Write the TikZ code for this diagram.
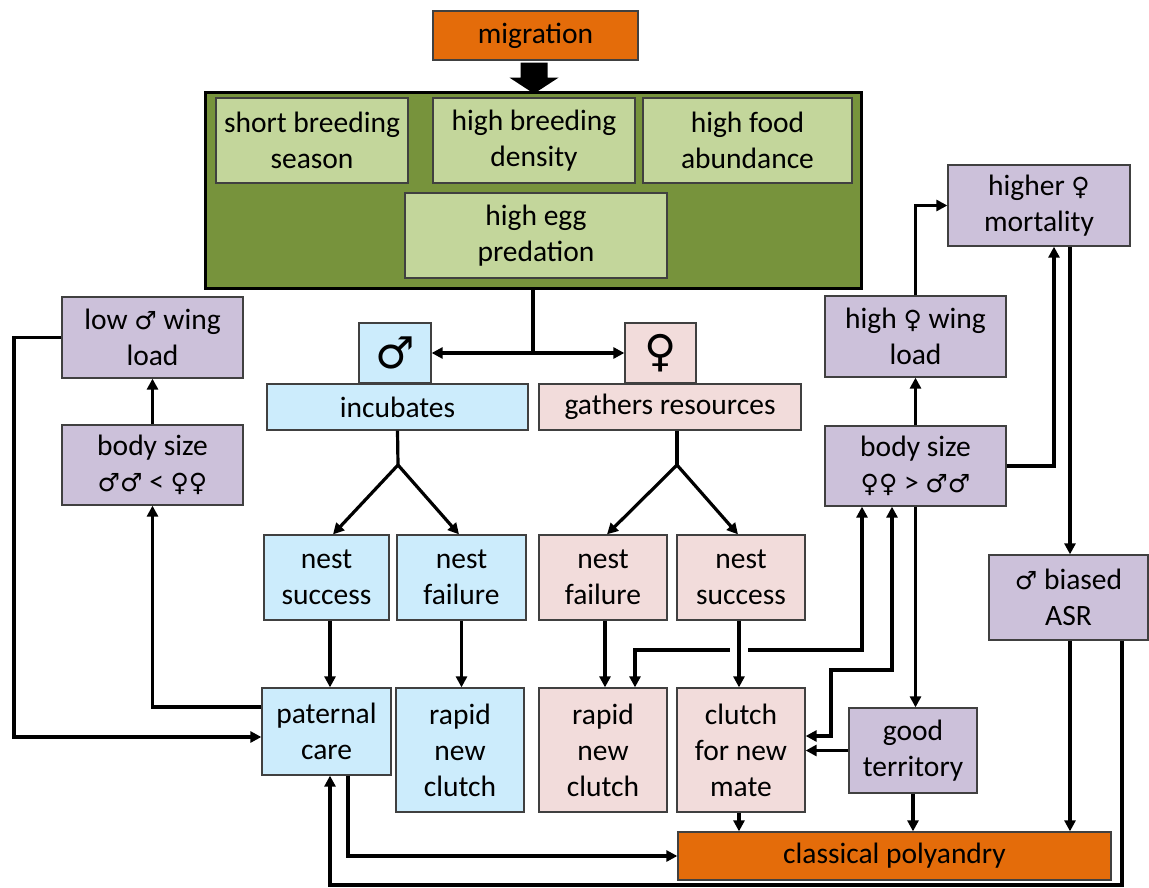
\documentclass[tikz,border=0pt]{standalone}
\usepackage{fontspec}
\setmainfont{Carlito}
\newfontfamily\symf[Scale=0.85]{DejaVu Sans}
\newfontfamily\bigsymf{DejaVu Sans}
\usetikzlibrary{arrows.meta,calc}
\newcommand{\msym}{{\symf ♂}}
\newcommand{\fsym}{{\symf ♀}}
\definecolor{orng}{RGB}{228,108,10}
\definecolor{dkgreen}{RGB}{119,147,60}
\definecolor{lgreen}{RGB}{195,214,155}
\definecolor{lblue}{RGB}{204,236,252}
\definecolor{lpink}{RGB}{242,220,219}
\definecolor{lpurple}{RGB}{204,193,218}
\definecolor{bordergray}{RGB}{64,64,64}
\tikzset{
  box/.style={draw=bordergray, line width=1.3pt, align=center, inner sep=0pt,
    font=\fontsize{29.5}{36}\selectfont},
  gbox/.style={box, fill=lgreen},
  bbox/.style={box, fill=lblue},
  pkbox/.style={box, fill=lpink},
  pubox/.style={box, fill=lpurple},
  obox/.style={box, fill=orng},
  lin/.style={line width=3.2pt},
  conn/.style={line width=3.2pt, -{Triangle[length=11pt,width=11pt]}},
  bconn/.style={line width=3.2pt, {Triangle[length=11pt,width=11pt]}-{Triangle[length=11pt,width=11pt]}},
}
\begin{document}
\begin{tikzpicture}[x=1pt,y=-1pt]
\useasboundingbox (0,0) rectangle (1149,888);
% top
\node[obox, minimum width=205, minimum height=49] (mig) at (535.5,35.5) {migration};
\node[draw=black, line width=3pt, fill=dkgreen, minimum width=656, minimum height=195, inner sep=0pt] (env) at (533,190.5) {};
\fill ($(mig.south)+(-15,2)$) -- ($(mig.south)+(12,2)$) -- ($(mig.south)+(12,17)$) -- ($(mig.south)+(23,17)$)
  -- ($(mig.south)+(-1.5,33)$) -- ($(mig.south)+(-26,17)$) -- ($(mig.south)+(-15,17)$) -- cycle;
\node[gbox, minimum width=192, minimum height=85] (sbs) at (312,140.5) {short breeding\\season};
\node[gbox, minimum width=202, minimum height=85] (hbd) at (534,140.5) {high breeding\\density};
\node[gbox, minimum width=209, minimum height=85] (hfa) at (747.5,140.5) {high food\\abundance};
\node[gbox, minimum width=262, minimum height=85] (hep) at (536,235.5) {high egg\\predation};
% sexes
\node[bbox, minimum width=72, minimum height=60, font=\bigsymf\fontsize{44}{44}\selectfont] (msym) at (395,353) {♂};
\node[pkbox, minimum width=71, minimum height=60, font=\bigsymf\fontsize{44}{44}\selectfont] (fsym) at (660.5,353) {♀};
\node[bbox, minimum width=261, minimum height=46] (inc) at (397.5,407) {incubates};
\node[pkbox, minimum width=262, minimum height=46] (gat) at (670,407) {gathers resources};
% nests
\node[bbox, minimum width=125, minimum height=85] (mns) at (326.5,577.5) {nest\\success};
\node[bbox, minimum width=129, minimum height=85] (mnf) at (461.5,577.5) {nest\\failure};
\node[pkbox, minimum width=128, minimum height=85] (fnf) at (603,577.5) {nest\\failure};
\node[pkbox, minimum width=128, minimum height=85] (fns) at (741,577.5) {nest\\success};
% outcomes
\node[bbox, minimum width=129, minimum height=87] (pc) at (326.5,731.5) {paternal\\care};
\node[bbox, minimum width=128, minimum height=124] (mrc) at (460,750) {rapid\\new\\clutch};
\node[pkbox, minimum width=128, minimum height=124] (frc) at (603,750) {rapid\\new\\clutch};
\node[pkbox, minimum width=128, minimum height=124] (cnm) at (741,750) {clutch\\for new\\mate};
\node[pubox, minimum width=128, minimum height=85] (gt) at (913,750.5) {good\\territory};
\node[obox, minimum width=433, minimum height=48] (cp) at (894.5,856) {classical polyandry};
% purple
\node[pubox, minimum width=181, minimum height=81] (lwl) at (152.5,337.5) {low \msym{} wing\\load};
\node[pubox, minimum width=181, minimum height=80] (bsm) at (152.5,465) {body size\\\msym\msym{} < \fsym\fsym};
\node[pubox, minimum width=181, minimum height=81] (hwl) at (915.5,336.5) {high \fsym{} wing\\load};
\node[pubox, minimum width=181, minimum height=80] (bsf) at (915.5,466) {body size\\\fsym\fsym{} > \msym\msym};
\node[pubox, minimum width=182, minimum height=81] (hfm) at (1039,205.5) {higher \fsym\\mortality};
\node[pubox, minimum width=159, minimum height=85] (asr) at (1068.5,597.5) {\msym{} biased\\ASR};
% connectors
\coordinate (sp) at (533,353);
\draw[lin] (env.south) -- (sp);
\draw[conn] (sp) -- (msym.east);
\draw[conn] (sp) -- (fsym.west);
\coordinate (mj) at (398,465);
\draw[lin] (inc.south) -- (mj);
\draw[conn] (mj) -- ([xshift=6.5pt]mns.north);
\draw[conn] (mj) -- ([xshift=-2.5pt]mnf.north);
\coordinate (fj) at (677,465);
\draw[lin] ([xshift=7pt]gat.south) -- (fj);
\draw[conn] (fj) -- ([xshift=4pt]fnf.north);
\draw[conn] (fj) -- ([xshift=-3pt]fns.north);
\draw[conn] ([xshift=3.5pt]mns.south) -- ([xshift=3.5pt]pc.north);
\draw[conn] (mnf.south) -- (mnf.south |- mrc.north);
\draw[conn] ([xshift=2pt]fnf.south) -- ([xshift=2pt]fnf.south |- frc.north);
\draw[bconn] ([xshift=-53.5pt]bsf.south) -- (862,650) -- (635,650) -- ([xshift=32pt]frc.north);
\draw[conn, preaction={draw=white, line width=18pt, shorten <=16pt, shorten >=16pt, -}] ([xshift=-2pt]fns.south) -- ([xshift=-2pt]fns.south |- cnm.north);
\draw[bconn] ([xshift=-23.5pt]bsf.south) -- (892,670) -- (831,670) -- (831,736) -- ([yshift=14pt]cnm.east);
\draw[conn] (bsf.south) -- (bsf.south |- gt.north);
\draw[conn] (gt.west) -- (gt.west -| cnm.east);
\draw[conn] (gt.south) -- (gt.south |- cp.north);
\draw[conn] ([xshift=-2pt]cnm.south) -- ([xshift=-2pt]cnm.south |- cp.north);
\draw[conn] ([xshift=1.5pt]asr.south) -- ([xshift=1.5pt]asr.south |- cp.north);
\draw[conn] ([xshift=53.5pt]asr.south) -- (1122,885) -- (330,885) -- ([xshift=3.5pt]pc.south);
\draw[conn] ([xshift=21.5pt]pc.south) -- (348,856) -- (cp.west);
\draw[conn] (hwl.north) -- (915.5,205.5) -- (hfm.west);
\draw[conn] (bsf.north) -- (hwl.south);
\draw[conn] (bsf.east) -- (1054,466) -- ([xshift=15pt]hfm.south);
\draw[conn] ([xshift=31pt]hfm.south) -- ([xshift=31pt]hfm.south |- asr.north);
\draw[conn] (bsm.north) -- (lwl.south);
\draw[conn] ([yshift=24.5pt]pc.west) -- (152.5,707) -- (bsm.south);
\draw[conn] (lwl.west) -- (14,337.5) -- (14,737) -- ([yshift=-5.5pt]pc.west);
\end{tikzpicture}
\end{document}
